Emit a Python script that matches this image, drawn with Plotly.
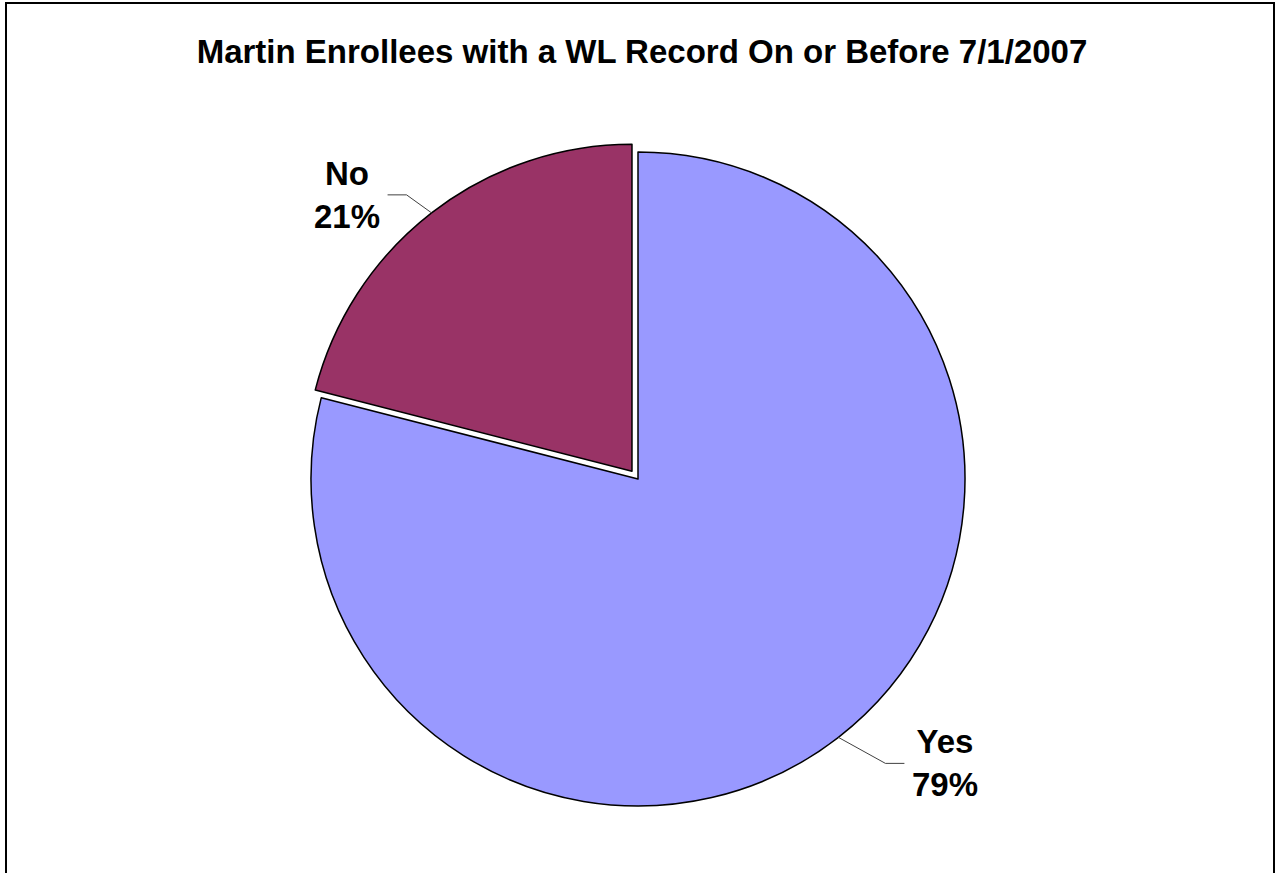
import numpy as np
import plotly.graph_objects as go

# ---- data ----
labels = ["Yes", "No"]
values = [79, 21]
colors = ["#9999FF", "#993366"]
pulls = [0.0, 0.03]
title_text = "Martin Enrollees with a WL Record On or Before 7/1/2007"

# ---- layout geometry (pixels) ----
W, H = 1279, 873
CX, CY, R = 638, 479, 327
FONT = "Liberation Sans, Arial, sans-serif"

maxpull = max(pulls)
half = R * (1 + maxpull)
dom_x = [(CX - half) / W, (CX + half) / W]
dom_y = [1 - (CY + half) / H, 1 - (CY - half) / H]

fig = go.Figure(go.Pie(
    labels=labels, values=values, sort=False, direction="clockwise", rotation=0,
    pull=pulls, marker=dict(colors=colors, line=dict(color="black", width=1.5)),
    textinfo="none", hoverinfo="skip", showlegend=False,
    domain=dict(x=dom_x, y=dom_y),
))

def px2paper(x, y):
    return x / W, 1 - y / H

total = sum(values)
start = 0.0
shapes = []
annotations = []
for lab, val, pl in zip(labels, values, pulls):
    frac = val / total
    mid = np.radians(start + frac * 360 / 2)
    start += frac * 360
    d = np.array([np.sin(mid), -np.cos(mid)])
    c = np.array([CX, CY]) + pl * R * d
    P = c + R * d
    sx, sy = np.sign(d[0]), np.sign(d[1])
    end = P + np.array([sx * 55 + 11, sy * 22 + 4])
    elbow = end - np.array([sx * 19, 0])
    pts = [px2paper(*P), px2paper(*elbow), px2paper(*end)]
    path = "M {} {} L {} {} L {} {}".format(*pts[0], *pts[1], *pts[2])
    shapes.append(dict(type="path", xref="paper", yref="paper", path=path,
                       line=dict(color="#404040", width=1)))
    lx, ly = px2paper(end[0] + sx * 41, end[1])
    annotations.append(dict(
        x=lx, y=ly, xref="paper", yref="paper", xanchor="center", yanchor="middle",
        text=f"<b>{lab}</b><br><b>{round(frac * 100)}%</b>", showarrow=False,
        font=dict(family=FONT, size=33, color="black"), align="center"))

# chart frame
shapes.append(dict(type="rect", xref="paper", yref="paper",
                   x0=6 / W, x1=1274 / W, y0=-0.05, y1=1 - 3 / H,
                   line=dict(color="black", width=2), fillcolor="rgba(0,0,0,0)"))

fig.update_layout(
    width=W, height=H,
    margin=dict(l=0, r=0, t=0, b=0),
    paper_bgcolor="white", plot_bgcolor="white",
    title=dict(text=f"<b>{title_text}</b>", x=642 / W, xanchor="center",
               y=1 - 51 / H, yanchor="middle", yref="container",
               font=dict(family=FONT, size=33, color="black")),
    shapes=shapes, annotations=annotations,
)

fig.write_html("out.html", config={"displayModeBar": False},
               post_script="document.body.style.margin='0';document.body.style.overflow='hidden';")
